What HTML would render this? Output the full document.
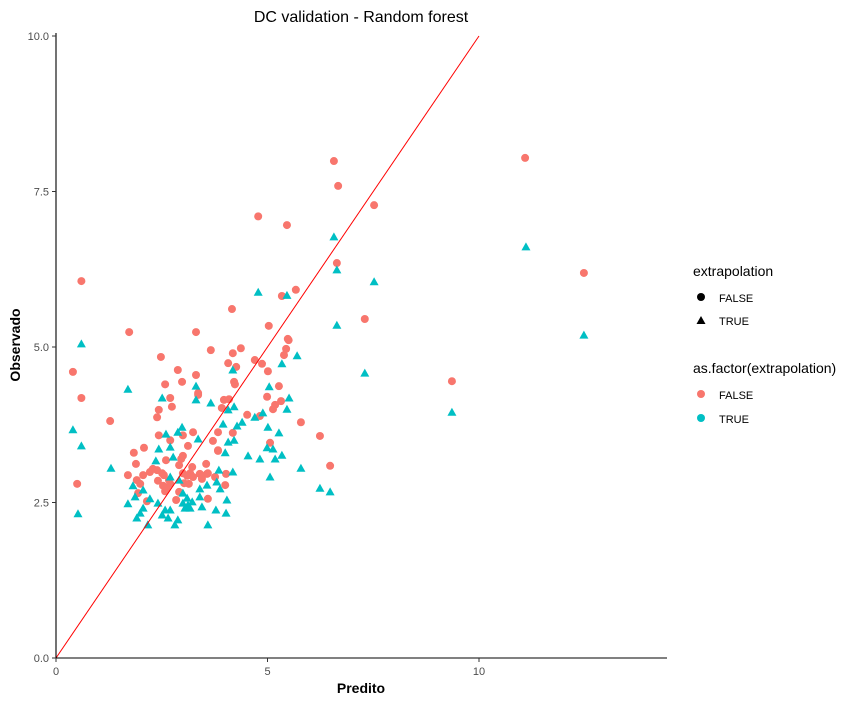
<!DOCTYPE html>
<html><head><meta charset="utf-8"><style>
body{margin:0;background:#fff;font-family:"Liberation Sans",Arial,sans-serif}
svg text{font-family:"Liberation Sans",Arial,sans-serif}
</style></head><body>
<svg id="chart" width="854" height="703" viewBox="0 0 854 703" xmlns="http://www.w3.org/2000/svg">
<rect width="854" height="703" fill="#fff"/>
<text x="361" y="22" text-anchor="middle" font-size="16" fill="#000">DC validation - Random forest</text>
<g id="marks"></g>
<line x1="56" y1="33" x2="56" y2="658" stroke="#000" stroke-width="1.1"/>
<line x1="56" y1="658" x2="667" y2="658" stroke="#000" stroke-width="1.1"/>
<g id="ticks"></g>
<text x="361" y="693" text-anchor="middle" font-size="14" font-weight="bold">Predito</text>
<text transform="translate(20,345) rotate(-90)" text-anchor="middle" font-size="14" font-weight="bold">Observado</text>
<g>
<text x="693" y="276" font-size="14">extrapolation</text>
<circle cx="701" cy="297" r="4" fill="#000"/>
<text x="719" y="302" font-size="11">FALSE</text>
<polygon points="701,316 705.5,324 696.5,324" fill="#000"/>
<text x="719" y="325" font-size="11">TRUE</text>
</g>
<g>
<text x="693" y="373" font-size="14">as.factor(extrapolation)</text>
<circle cx="701" cy="394" r="4" fill="#F8766D"/>
<text x="719" y="399" font-size="11">FALSE</text>
<circle cx="701" cy="418" r="4" fill="#00BFC4"/>
<text x="719" y="423" font-size="11">TRUE</text>
</g>
</svg>
<script>
const xTicks=[0,5,10];
const yTicks=[0,2.5,5,7.5,10];
const yTickLabels=["0.0","2.5","5.0","7.5","10.0"];
const falseX=[0.4,0.6,0.6,0.5,1.73,1.28,6.57,6.67,7.52,4.78,5.46,6.64,7.3,11.09,12.48,9.36,6.24,6.48,4.16,5.34,5.67,5.03,5.5,5.39,5.79,3.31,2.48,3.66,4.18,4.37,4.07,4.26,2.88,3.31,2.58,2.98,4.21,4.23,3.36,3.36,2.7,3.97,4.09,3.92,2.74,2.43,2.39,3.24,3.83,4.18,2.43,2.7,3.71,3.12,2.08,1.84,3.83,3.0,2.96,2.6,1.89,2.91,3.55,3.22,2.29,2.22,2.39,2.51,3.0,3.17,3.4,3.57,1.7,2.06,2.55,3.1,3.24,4.02,3.76,1.91,2.41,3.45,1.99,3.03,3.14,3.59,2.53,2.7,2.62,4.0,1.94,2.58,2.91,2.15,2.84,3.59,4.52,4.82,5.01,4.87,4.7,5.44,5.48,5.27,4.99,5.32,5.18,5.13,5.06,3.0,3.83,2.67];
const falseY=[4.6,6.06,4.18,2.8,5.24,3.81,7.99,7.59,7.28,7.1,6.96,6.35,5.45,8.04,6.19,4.45,3.57,3.09,5.61,5.82,5.92,5.34,5.11,4.87,3.79,5.24,4.84,4.95,4.9,4.98,4.74,4.68,4.63,4.55,4.4,4.44,4.44,4.4,4.26,4.23,4.18,4.15,4.16,4.02,4.04,3.99,3.87,3.63,3.63,3.62,3.58,3.5,3.49,3.41,3.38,3.3,3.33,3.25,3.2,3.18,3.12,3.1,3.12,3.07,3.04,2.99,3.02,2.97,2.97,2.97,2.96,2.96,2.94,2.94,2.94,2.93,2.91,2.96,2.91,2.86,2.85,2.88,2.8,2.81,2.8,2.97,2.77,2.8,2.72,2.78,2.65,2.68,2.67,2.52,2.54,2.56,3.91,3.89,4.61,4.73,4.79,4.97,5.13,4.37,4.2,4.13,4.07,4.0,3.46,3.58,3.34,2.86];
const trueX=[1.7,2.51,3.31,3.31,3.66,4.18,5.34,5.7,5.04,5.51,5.46,4.21,4.07,4.89,4.7,4.4,4.28,3.95,2.98,2.88,5.01,5.27,3.36,4.07,4.21,2.6,2.7,2.43,4.0,2.77,2.36,1.3,4.54,4.82,4.99,5.13,5.34,5.18,5.79,5.06,3.85,4.18,3.8,3.88,3.57,3.4,2.91,2.7,1.82,2.06,1.87,1.7,2.22,2.41,2.06,1.99,1.91,2.58,2.51,2.7,2.65,2.88,2.81,3.0,3.1,3.0,3.12,3.22,3.05,3.17,3.4,3.45,3.59,3.78,4.02,4.04,2.17,0.52,0.4,0.6,0.6,6.57,6.64,7.52,6.64,7.3,4.78,5.46,11.11,12.48,9.36,6.24,6.48];
const trueY=[4.32,4.18,4.37,4.15,4.1,4.63,4.73,4.86,4.36,4.18,4.0,4.04,3.99,3.94,3.87,3.79,3.73,3.76,3.71,3.63,3.71,3.62,3.52,3.47,3.5,3.6,3.39,3.36,3.3,3.23,3.17,3.05,3.25,3.2,3.38,3.36,3.26,3.2,3.05,2.91,3.02,2.99,2.83,2.72,2.78,2.72,2.86,2.91,2.77,2.7,2.59,2.48,2.56,2.49,2.41,2.33,2.25,2.38,2.3,2.38,2.25,2.22,2.14,2.65,2.57,2.49,2.46,2.51,2.41,2.41,2.59,2.43,2.14,2.38,2.33,2.54,2.14,2.32,3.67,3.41,5.05,6.77,6.24,6.05,5.35,4.58,5.88,5.83,6.61,5.19,3.95,2.73,2.67];
const NS="http://www.w3.org/2000/svg";
function sx(v){return 56+v*42.3;}
function sy(v){return 658-v*62.2;}
const marks=document.getElementById('marks');
const ticks=document.getElementById('ticks');
function mk(tag,attrs,parent){const e=document.createElementNS(NS,tag);for(const k in attrs)e.setAttribute(k,attrs[k]);parent.appendChild(e);return e;}
xTicks.forEach((t,i)=>{
  const l=mk('line',{x1:sx(t),x2:sx(t),y1:658,y2:662,stroke:'#333'},ticks);
  
  
  const tx=mk('text',{x:sx(t),y:675,'text-anchor':'middle','font-size':11,fill:'#4d4d4d'},ticks);
  tx.textContent=String(t);
  
  
});
yTicks.forEach((t,i)=>{
  const l=mk('line',{x1:52,x2:56,y1:sy(t),y2:sy(t),stroke:'#333'},ticks);
  
  
  const tx=mk('text',{x:49,y:sy(t)+4,'text-anchor':'end','font-size':11,fill:'#4d4d4d'},ticks);
  tx.textContent=yTickLabels[i];
  
  
});
falseX.forEach((x,i)=>{
  const c=mk('circle',{cx:sx(x),cy:sy(falseY[i]),r:4,fill:'#F8766D'},marks);
  
  
});
trueX.forEach((x,i)=>{
  const px=sx(x),py=sy(trueY[i]);
  const p=mk('polygon',{points:`${px},${py-4.5} ${px+4.5},${py+3.5} ${px-4.5},${py+3.5}`,fill:'#00BFC4'},marks);
  
  
});
const ref=mk('line',{x1:sx(0),y1:sy(0),x2:sx(10),y2:sy(10),stroke:'#FF0000','stroke-width':1},marks);


</script>
</body></html>
